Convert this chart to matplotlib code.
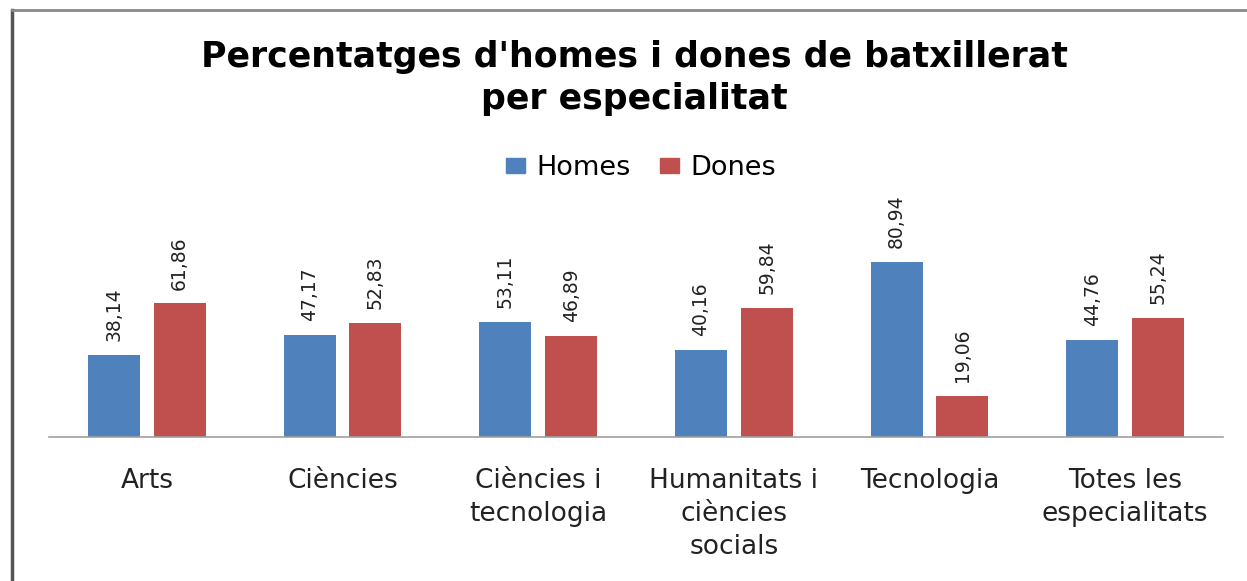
import matplotlib.pyplot as plt
import matplotlib.patches as mpatches
import numpy as np

plt.rcParams['font.family'] = ['DejaVu Sans']

categories = ["Arts", "Ciències", "Ciències i\ntecnologia", "Humanitats i\nciències\nsocials",
              "Tecnologia", "Totes les\nespecialitats"]
homes = [38.14, 47.17, 53.11, 40.16, 80.94, 44.76]
dones = [61.86, 52.83, 46.89, 59.84, 19.06, 55.24]

blue = "#4f81bd"
red = "#c0504d"

fig = plt.figure(figsize=(12.47, 5.81), dpi=100)
ax = fig.add_axes([0.0393, 0.2478, 0.9415, 0.3718])

x = np.arange(len(categories))
w = 0.266
off = 0.168
ax.bar(x - off, homes, w, color=blue)
ax.bar(x + off, dones, w, color=red)

for xi, v in zip(x - off, homes):
    ax.annotate(f"{v:.2f}".replace(".", ","), (xi, v), xytext=(0, 10), textcoords="offset points",
                rotation=90, ha="center", va="bottom", fontsize=13.5, color="#222222")
for xi, v in zip(x + off, dones):
    ax.annotate(f"{v:.2f}".replace(".", ","), (xi, v), xytext=(0, 10), textcoords="offset points",
                rotation=90, ha="center", va="bottom", fontsize=13.5, color="#222222")

ax.set_xlim(-0.5, len(categories) - 0.5)
ax.set_ylim(0, 100)
ax.set_yticks([])
ax.set_xticks(x)
ax.set_xticklabels(categories, fontsize=19, color="#222222", linespacing=1.34)
ax.tick_params(axis="x", length=0, pad=22.5)
for s in ["top", "right", "left"]:
    ax.spines[s].set_visible(False)
ax.spines["bottom"].set_color("#a0a0a0")
ax.spines["bottom"].set_linewidth(1.2)

fig.text(0.509, 0.866, "Percentatges d'homes i dones de batxillerat\nper especialitat",
         ha="center", va="center", fontsize=25, fontweight="bold", linespacing=1.3)

handles = [mpatches.Patch(color=blue, label="Homes"), mpatches.Patch(color=red, label="Dones")]
fig.legend(handles=handles, loc="center", bbox_to_anchor=(0.514, 0.711), ncol=2, frameon=False,
           fontsize=19.5, handlelength=0.7, handleheight=0.5, handletextpad=0.4, columnspacing=1.1)

# grey frame on top and left edges
fig.add_artist(plt.Line2D([0.0096, 0.0096], [0, 0.983], color="#555555", lw=2.5, transform=fig.transFigure))
fig.add_artist(plt.Line2D([0.0096, 1], [0.983, 0.983], color="#888888", lw=2, transform=fig.transFigure))

fig.savefig("out.png", dpi=100)
